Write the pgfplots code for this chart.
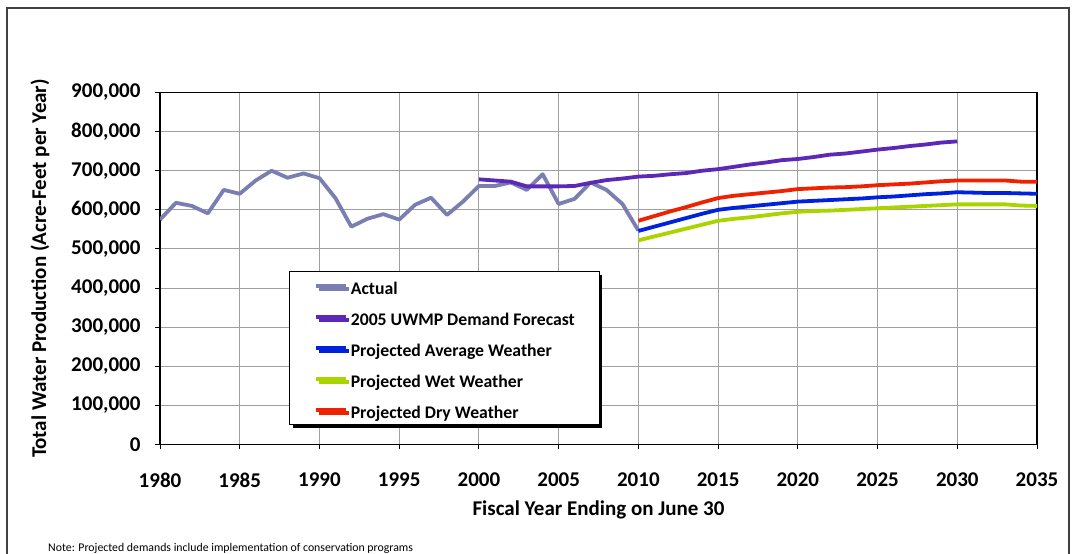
\documentclass[border=0pt]{standalone}
\usepackage{fontspec}
\setmainfont{Carlito}
\usepackage{pgfplots}
\pgfplotsset{compat=1.18}
\usetikzlibrary{shadows}

\definecolor{cActual}{RGB}{122,126,176}
\definecolor{cUWMP}{RGB}{92,40,184}
\definecolor{cAvg}{RGB}{0,34,221}
\definecolor{cWet}{RGB}{170,212,0}
\definecolor{cDry}{RGB}{238,34,0}
\definecolor{cGrid}{RGB}{160,160,160}

\begin{document}
\begin{tikzpicture}[x=1bp,y=1bp]
\path[use as bounding box] (0,0) rectangle (1076,554);
\draw[line width=2bp, draw=black!75] (7,-20) rectangle (1069,546);
\begin{axis}[
 at={(160bp,109.5bp)}, anchor=south west,
 scale only axis, width=877bp, height=352bp,
 xmin=1980, xmax=2035, ymin=0, ymax=900000,
 xtick={1980,1985,...,2035}, ytick={0,100000,...,900000},
 grid=major, major grid style={cGrid, line width=1bp},
 axis line style={black, line width=1.2bp},
 tick align=outside, tick pos=left, major tick length=5bp,
 tick style={black, line width=1bp},
 scaled y ticks=false,
 /pgf/number format/assume math mode=true,
 xticklabel={\pgfmathprintnumber[1000 sep={}]{\tick}},
 yticklabel={\pgfmathprintnumber[fixed, 1000 sep={,}]{\tick}},
 tick label style={font=\bfseries\fontsize{21bp}{25bp}\selectfont},
 xticklabel style={yshift=-20bp},
 yticklabel style={xshift=-11bp},
 label style={font=\bfseries\fontsize{21bp}{25bp}\selectfont},
 xlabel={Fiscal Year Ending on June 30},
 ylabel={Total Water Production (Acre-Feet per Year)},
 xlabel style={at={(axis description cs:0.5,-0.1847)}, anchor=center},
 ylabel style={at={(axis description cs:-0.1368,0.5)}, anchor=center},
 legend cell align=left,
 legend image code/.code={\draw[#1] (0bp,0bp) -- (30bp,0bp);},
 legend style={at={(0.147,0.054)}, anchor=south west,
   font=\bfseries\fontsize{17.7bp}{20bp}\selectfont,
   draw=black, line width=1.2bp, fill=white,
   inner xsep=24.5bp, inner ysep=6bp, row sep=14bp, column sep=3bp,
   nodes={inner sep=0bp, text height=17bp, text depth=0bp},
   general shadow={fill=black, shadow xshift=3bp, shadow yshift=-3bp}},
 every axis plot/.append style={line width=3.8bp, line join=round},
]
\addplot[cActual] coordinates {
(1980,575000)(1981,618000)(1982,610000)(1983,591000)(1984,651000)(1985,641000)
(1986,675000)(1987,700000)(1988,682000)(1989,693000)(1990,681000)(1991,630000)
(1992,557000)(1993,577000)(1994,589000)(1995,575000)(1996,613000)(1997,631000)
(1998,587000)(1999,621000)(2000,661000)(2001,661000)(2002,670000)(2003,651000)
(2004,691000)(2005,615000)(2006,628000)(2007,670000)(2008,651000)(2009,615000)
(2010,547000)};
\addlegendentry{Actual}
\addplot[cUWMP] coordinates {
(2000,678000)(2001,675000)(2002,672000)(2003,660000)(2004,660000)(2005,660000)
(2006,661000)(2007,669000)(2008,676000)(2009,680000)(2010,685000)(2011,687000)
(2012,691000)(2013,694000)(2014,700000)(2015,704000)(2016,710000)(2017,716000)
(2018,721000)(2019,727000)(2020,730000)(2021,735000)(2022,741000)(2023,744000)
(2024,749000)(2025,754000)(2026,758000)(2027,763000)(2028,767000)(2029,772000)
(2030,775000)};
\addlegendentry{2005 UWMP Demand Forecast}
\addplot[cAvg] coordinates {
(2010,546000)(2011,557000)(2012,568000)(2013,579000)(2014,590000)(2015,600000)
(2016,605000)(2017,609000)(2018,613000)(2019,617000)(2020,621000)(2021,623000)
(2022,625000)(2023,627000)(2024,629000)(2025,632000)(2026,634000)(2027,637000)
(2028,640000)(2029,642000)(2030,645000)(2031,644000)(2032,643000)(2033,643000)
(2034,642000)(2035,641000)};
\addlegendentry{Projected Average Weather}
\addplot[cWet] coordinates {
(2010,522000)(2011,532000)(2012,542000)(2013,552000)(2014,562000)(2015,572000)
(2016,577000)(2017,581000)(2018,586000)(2019,591000)(2020,595000)(2021,597000)
(2022,598000)(2023,600000)(2024,602000)(2025,604000)(2026,606000)(2027,608000)
(2028,610000)(2029,612000)(2030,614000)(2031,614000)(2032,614000)(2033,614000)
(2034,611000)(2035,610000)};
\addlegendentry{Projected Wet Weather}
\addplot[cDry] coordinates {
(2010,572000)(2011,584000)(2012,596000)(2013,607000)(2014,619000)(2015,630000)
(2016,636000)(2017,640000)(2018,644000)(2019,648000)(2020,653000)(2021,655000)
(2022,657000)(2023,658000)(2024,660000)(2025,663000)(2026,665000)(2027,667000)
(2028,670000)(2029,673000)(2030,675000)(2031,675000)(2032,675000)(2033,675000)
(2034,672000)(2035,672000)};
\addlegendentry{Projected Dry Weather}
\end{axis}
\node[anchor=west, font=\fontsize{11.8bp}{14bp}\selectfont, inner sep=0pt] at (48,5.5) {Note: Projected demands include implementation of conservation programs};
\end{tikzpicture}
\end{document}
